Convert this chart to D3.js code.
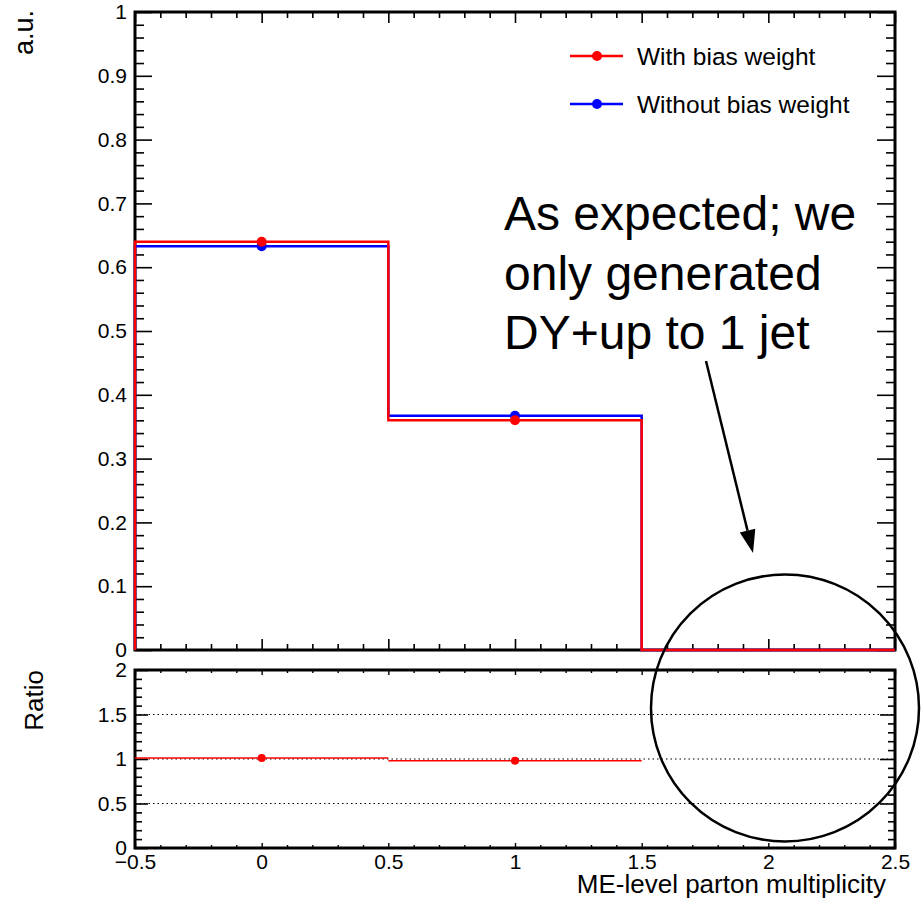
<!DOCTYPE html>
<html>
<head>
<meta charset="utf-8">
<script src="https://cdn.jsdelivr.net/npm/d3@7"></script>
<style>
  html, body { margin: 0; padding: 0; background: #fff; }
  svg { display: block; }
  text { font-family: "Liberation Sans", Arial, Helvetica, sans-serif; fill: #000; }
</style>
</head>
<body>
<script>
// ---------------- data ----------------
const binEdges   = [-0.5, 0.5, 1.5, 2.5];
const binCenters = [0, 1, 2];
const withBias    = [0.640, 0.360, 0.0];   // red
const withoutBias = [0.633, 0.367, 0.0];   // blue
const ratioValues = [1.011, 0.981];        // with / without, bins 0 and 1 only
const seriesNames = ["With bias weight", "Without bias weight"];
const seriesColors = ["#ff0000", "#0000ff"];
const xTickValues = [-0.5, 0, 0.5, 1, 1.5, 2, 2.5];
const yMainTickValues = [0, 0.1, 0.2, 0.3, 0.4, 0.5, 0.6, 0.7, 0.8, 0.9, 1];
const yRatioTickValues = [0, 0.5, 1, 1.5, 2];
const ratioGridValues = [0.5, 1, 1.5];
const annotationLines = ["As expected; we", "only generated", "DY+up to 1 jet"];

// ---------------- layout ----------------
const W = 922, H = 902;
const L = 135, R = 895;
const mainTop = 12, mainBot = 650;
const ratTop = 670, ratBot = 848;

const svg = d3.select("body").append("svg").attr("width", W).attr("height", H);

const x = d3.scaleLinear().domain([-0.5, 2.5]).range([L, R]);
const yM = d3.scaleLinear().domain([0, 1]).range([mainBot, mainTop]);
const yR = d3.scaleLinear().domain([0, 2]).range([ratBot, ratTop]);

const fmt = d => d3.format("~g")(d).replace("-", "\u2212");

function minorTicks(scale, step, majors) {
  const [a, b] = scale.domain();
  const out = [];
  const n = Math.round((b - a) / step);
  for (let i = 0; i <= n; i++) {
    const v = +(a + i * step).toFixed(6);
    if (!majors.some(m => Math.abs(m - v) < 1e-9)) out.push(v);
  }
  return out;
}

function drawAxis(axisGen, transform, strokeW) {
  const g = svg.append("g").attr("transform", transform).call(axisGen);
  g.select(".domain").remove();
  g.selectAll(".tick line").attr("stroke", "#000").attr("stroke-width", strokeW);
  return g;
}

// ---------------- main panel ticks ----------------
const yMainMinor = minorTicks(yM, 0.02, yMainTickValues);
const xMinor = minorTicks(x, 0.1, xTickValues);

drawAxis(d3.axisLeft(yM).tickValues(yMainTickValues).tickSize(-17).tickPadding(8).tickFormat(fmt),
  `translate(${L},0)`, 1.6).selectAll("text").attr("font-size", 21);
drawAxis(d3.axisLeft(yM).tickValues(yMainMinor).tickSize(-9).tickFormat(""), `translate(${L},0)`, 1.6);
drawAxis(d3.axisRight(yM).tickValues(yMainTickValues).tickSize(-18).tickFormat(""), `translate(${R},0)`, 1.6);
drawAxis(d3.axisRight(yM).tickValues(yMainMinor).tickSize(-9).tickFormat(""), `translate(${R},0)`, 1.6);
drawAxis(d3.axisBottom(x).tickValues(xTickValues).tickSize(-11).tickFormat(""), `translate(0,${mainBot})`, 1.6);
drawAxis(d3.axisBottom(x).tickValues(xMinor).tickSize(-6).tickFormat(""), `translate(0,${mainBot})`, 1.6);
drawAxis(d3.axisTop(x).tickValues(xTickValues).tickSize(-11).tickFormat(""), `translate(0,${mainTop})`, 1.6);
drawAxis(d3.axisTop(x).tickValues(xMinor).tickSize(-6).tickFormat(""), `translate(0,${mainTop})`, 1.6);

// ---------------- ratio panel ticks ----------------
const yRatioMinor = minorTicks(yR, 0.1, yRatioTickValues);

svg.append("g").selectAll("line").data(ratioGridValues).join("line")
  .attr("x1", x(-0.5)).attr("x2", x(2.5))
  .attr("y1", d => yR(d)).attr("y2", d => yR(d))
  .attr("stroke", "#000").attr("stroke-width", 1.2).attr("stroke-dasharray", "1.5,3");

drawAxis(d3.axisLeft(yR).tickValues(yRatioTickValues).tickSize(-13).tickPadding(8).tickFormat(fmt),
  `translate(${L},0)`, 1.6).selectAll("text").attr("font-size", 21);
drawAxis(d3.axisLeft(yR).tickValues(yRatioMinor).tickSize(-7).tickFormat(""), `translate(${L},0)`, 1.6);
drawAxis(d3.axisRight(yR).tickValues(yRatioTickValues).tickSize(-15).tickFormat(""), `translate(${R},0)`, 1.6);
drawAxis(d3.axisRight(yR).tickValues(yRatioMinor).tickSize(-7).tickFormat(""), `translate(${R},0)`, 1.6);
drawAxis(d3.axisBottom(x).tickValues(xTickValues).tickSize(-5).tickPadding(6).tickFormat(fmt),
  `translate(0,${ratBot})`, 1.4).selectAll("text").attr("font-size", 21).attr("dy", "0.71em");
drawAxis(d3.axisBottom(x).tickValues(xMinor).tickSize(-3).tickFormat(""), `translate(0,${ratBot})`, 1.4);
drawAxis(d3.axisTop(x).tickValues(xTickValues).tickSize(-5).tickFormat(""), `translate(0,${ratTop})`, 1.4);
drawAxis(d3.axisTop(x).tickValues(xMinor).tickSize(-3).tickFormat(""), `translate(0,${ratTop})`, 1.4);

// ---------------- frames ----------------
svg.append("rect").attr("x", L).attr("y", mainTop).attr("width", R - L).attr("height", mainBot - mainTop)
  .attr("fill", "none").attr("stroke", "#000").attr("stroke-width", 3);
svg.append("rect").attr("x", L).attr("y", ratTop).attr("width", R - L).attr("height", ratBot - ratTop)
  .attr("fill", "none").attr("stroke", "#000").attr("stroke-width", 3);

// ---------------- histograms ----------------
function histPath(vals, yScale) {
  const pts = [[binEdges[0], 0]];
  vals.forEach((v, i) => { pts.push([binEdges[i], v]); pts.push([binEdges[i + 1], v]); });
  pts.push([binEdges[binEdges.length - 1], 0]);
  return d3.line().x(d => x(d[0])).y(d => yScale(d[1]))(pts);
}

const series = [
  { vals: withoutBias, color: seriesColors[1] },
  { vals: withBias, color: seriesColors[0] }
];
series.forEach(s => {
  svg.append("path").attr("d", histPath(s.vals, yM))
    .attr("fill", "none").attr("stroke", s.color).attr("stroke-width", 2.5)
    .attr("stroke-linejoin", "miter");
  svg.append("g").selectAll("circle")
    .data(binCenters.map((c, i) => [c, s.vals[i]]).filter(d => d[1] > 0))
    .join("circle")
    .attr("cx", d => x(d[0])).attr("cy", d => yM(d[1])).attr("r", 5)
    .attr("fill", s.color);
});

// ---------------- ratio ----------------
svg.append("g").selectAll("line").data(ratioValues).join("line")
  .attr("x1", (d, i) => x(binEdges[i])).attr("x2", (d, i) => x(binEdges[i + 1]))
  .attr("y1", d => yR(d)).attr("y2", d => yR(d))
  .attr("stroke", seriesColors[0]).attr("stroke-width", 1.6);
svg.append("g").selectAll("circle").data(ratioValues).join("circle")
  .attr("cx", (d, i) => x(binCenters[i])).attr("cy", d => yR(d)).attr("r", 4)
  .attr("fill", seriesColors[0]);

// ---------------- axis titles ----------------
svg.append("text").attr("transform", "translate(33,10) rotate(-90)")
  .attr("text-anchor", "end").attr("font-size", 27).text("a.u.");
svg.append("text").attr("transform", `translate(43,${ratTop}) rotate(-90)`)
  .attr("text-anchor", "end").attr("font-size", 26).text("Ratio");
svg.append("text").attr("x", 886).attr("y", 893)
  .attr("text-anchor", "end").attr("font-size", 26).text("ME-level parton multiplicity");

// ---------------- legend ----------------
const legY = [56, 104];
const leg = svg.append("g");
[0, 1].forEach(i => {
  leg.append("line").attr("x1", 570).attr("x2", 623).attr("y1", legY[i]).attr("y2", legY[i])
    .attr("stroke", seriesColors[i]).attr("stroke-width", 2.5);
  leg.append("circle").attr("cx", 597).attr("cy", legY[i]).attr("r", 5).attr("fill", seriesColors[i]);
  leg.append("text").attr("x", 637).attr("y", legY[i] + 9).attr("font-size", 24.5).text(seriesNames[i]);
});

// ---------------- annotation ----------------
const ann = svg.append("g");
annotationLines.forEach((t, i) => {
  ann.append("text").attr("x", 504).attr("y", 230 + i * 59.5).attr("font-size", 48).text(t);
});
const ax0 = 706, ay0 = 361, ax1 = 753, ay1 = 553;
const ang = Math.atan2(ay1 - ay0, ax1 - ax0);
const headLen = 23, headW = 8;
const bx = ax1 - headLen * Math.cos(ang), by = ay1 - headLen * Math.sin(ang);
ann.append("line").attr("x1", ax0).attr("y1", ay0).attr("x2", bx).attr("y2", by)
  .attr("stroke", "#000").attr("stroke-width", 2.5);
ann.append("path")
  .attr("d", `M${ax1},${ay1}L${bx + headW * Math.sin(ang)},${by - headW * Math.cos(ang)}L${bx - headW * Math.sin(ang)},${by + headW * Math.cos(ang)}Z`)
  .attr("fill", "#000");
ann.append("ellipse").attr("cx", 785).attr("cy", 708).attr("rx", 134).attr("ry", 133.5)
  .attr("fill", "none").attr("stroke", "#000").attr("stroke-width", 2.5);
</script>
</body>
</html>
